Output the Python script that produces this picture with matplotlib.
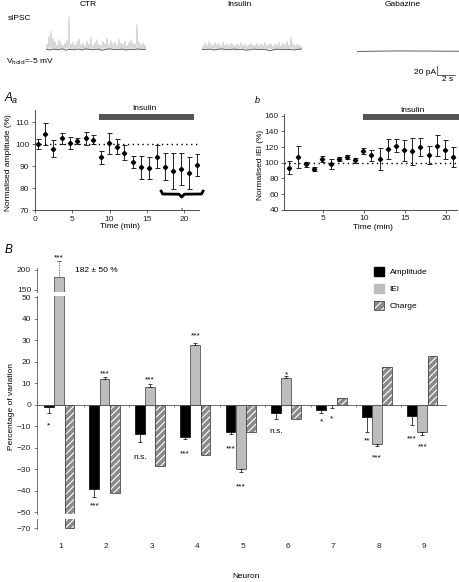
import matplotlib.pyplot as plt
from matplotlib.patches import Patch
from matplotlib.legend_handler import HandlerTuple
import numpy as np

plt.rcParams['font.family'] = ['Liberation Sans', 'DejaVu Sans']
plt.rcParams['font.size'] = 6
plt.rcParams['hatch.linewidth'] = 0.8
plt.rcParams['axes.linewidth'] = 0.6

W, H = 459, 582


def box(l, t, r, b):
    # pixel box -> figure fraction
    return [l / W, 1 - b / H, (r - l) / W, (b - t) / H]


# ---- sIPSC traces (pA) ----
ctr_peaks = [12, 30, 42, 25, 18, 10, 22, 15, 9, 14, 20, 73, 12, 16, 10, 18, 24, 11, 14, 9,
             19, 13, 27, 10, 16, 22, 12, 9, 18, 14, 25, 11, 20, 13, 17, 10, 23, 15, 12, 19,
             9, 16, 21, 14, 12, 56, 18, 11, 15, 10]
ctr_base = [0, -1.5, 0.5, -1, 1, -2, 0, -1, 0.5, -1.5, 1, -0.5, -1, 0.5, -2, 0, 1, -1, -0.5, 0.5,
            -1.5, 0, -1, 1, -0.5, 0]
ins_peaks = [8, 14, 10, 17, 12, 9, 15, 11, 13, 8, 16, 10, 12, 9, 14, 11, 8, 13, 10, 15,
             9, 12, 8, 11, 14, 10, 9, 13, 8, 12, 10, 15, 9, 11, 13, 8, 12, 10, 16, 9,
             14, 11, 18, 10, 27, 13, 9, 12, 10, 8]
ins_base = [0, -1, 0.5, -1.5, 0, 1, -1, -0.5, 0.5, -1, 0, -2, -1, 0.5, -0.5, 0, -1, -3, -1, 0.5,
            -1, 0, -0.5, -1.5, 0, 0.5]
gab_base = [0, 0.3, 0.6, 0.9, 1.1, 1.3, 1.2, 1.0, 1.1, 0.9, 0.7, 0.6, 0.5]

# ---- Aa: normalised amplitude ----
amp_t = [0.4, 1.4, 2.5, 3.6, 4.7, 5.7, 6.8, 7.8, 8.9, 9.9, 11.0, 12.0, 13.1, 14.2, 15.3,
         16.3, 17.4, 18.5, 19.6, 20.6, 21.7]
amp_mean = [100, 104.7, 98, 102.7, 100.6, 101.5, 102.7, 102, 94, 100.4, 98.9, 96.2, 91.8,
            89.5, 89.3, 94.3, 89.8, 88, 88.6, 86.9, 90.5]
amp_err = [2.3, 5, 4, 2.5, 2.7, 1.5, 3, 2, 3, 4.8, 3.4, 3.5, 2.8, 5.3, 5, 5.3, 6.3, 8.2, 7.2, 7.3, 4.9]
amp_insulin = (8.65, 21.3)

# ---- b: normalised IEI ----
iei_t = [0.85, 1.86, 2.88, 3.86, 4.88, 5.9, 6.88, 7.9, 8.87, 9.9, 10.87, 11.9, 12.87, 13.9,
         14.87, 15.9, 16.86, 17.9, 18.86, 19.9, 20.86]
iei_mean = [93.6, 106.8, 97.9, 91.5, 104.7, 98.3, 104.7, 107.7, 103, 115.3, 109.8, 104.7, 117,
            121.7, 115.7, 114.5, 120, 109.8, 121.7, 116.6, 107.2]
iei_err = [8.5, 14, 3, 2.5, 3.5, 6, 3, 2.5, 3, 4, 7, 14.5, 12.8, 8, 13.5, 17, 11, 12, 13.5, 12.5, 13]
iei_insulin = (9.82, 23.5)

# ---- B: percentage of variation per neuron ----
neurons = [1, 2, 3, 4, 5, 6, 7, 8, 9]
amp_var = [-1, -39.2, -13.8, -14.9, -12.9, -3.7, -2.6, -5.6, -5.1]
amp_sem = [3, 3.6, 3.5, 1.2, 0.9, 3.1, 1.1, 6.9, 4.3]
iei_var = [182, 12.1, 8.4, 27.9, -29.9, 12.3, -0.3, -18.3, -12.9]
iei_sem = [39, 1, 1.3, 1, 1.3, 1, 1.3, 0.9, 1.2]
charge_var = [-70, -41.2, -28.5, -23.5, -12.5, -6.8, 3.3, 17.4, 22.6]

# significance marks: (neuron, series 0=amp 1=iei, text, y)
sig = [(1, 0, '*', -10.7), (2, 0, '***', -47.9), (2, 1, '***', 13.6),
       (3, 0, 'n.s.', -25), (3, 1, '***', 10.8), (4, 0, '***', -23.6), (4, 1, '***', 31.3),
       (5, 0, '***', -21.1), (5, 1, '***', -38.8), (6, 0, 'n.s.', -13.2), (6, 1, '*', 13.4),
       (7, 0, '*', -8.9), (7, 1, '*', -7.3), (8, 0, '**', -17.5), (8, 1, '***', -25.6),
       (9, 0, '***', -16.6), (9, 1, '***', -20.5)]

fig = plt.figure(figsize=(W / 100, H / 100), dpi=100)

# ---------------- traces ----------------
def trace(ax, peaks, base, dur):
    n = len(peaks)
    xs = np.linspace(0, dur, 2 * n + 1)
    ys = []
    for i in range(n):
        ys.append(base[i % len(base)])
        ys.append(peaks[i])
    ys.append(base[0])
    ax.plot(xs, ys, color='#b0b0b0', lw=0.35)
    ax.plot(np.linspace(0, dur, len(base)), base, color='#505050', lw=0.6)


ax_c = fig.add_axes(box(46, 13.3, 146, 51.55))
trace(ax_c, ctr_peaks, ctr_base, 11.2)
ax_i = fig.add_axes(box(202, 13.3, 302, 51.55))
trace(ax_i, ins_peaks, ins_base, 11.2)
ax_g = fig.add_axes(box(356.7, 15.5, 459, 53.75))
ax_g.plot(np.linspace(0, 11.48, len(gab_base)), gab_base, color='#606060', lw=0.7)
for a, dur in [(ax_c, 11.2), (ax_i, 11.2), (ax_g, 11.48)]:
    a.set_xlim(0, dur)
    a.set_ylim(-5, 80)
    a.axis('off')
# scale bar 20 pA / 2 s
ax_g.plot([9.05, 9.05, 11.05], [-33.3, -53.3, -53.3], color='#444', lw=0.6, clip_on=False)
ax_g.text(8.95, -47.3, '20 pA', ha='right', va='center', fontsize=6)
ax_g.text(10.16, -62.9, '2 s', ha='center', va='center', fontsize=6)

fig.text(88 / W, 1 - 5 / H, 'CTR', ha='center', va='center', fontsize=6)
fig.text(239 / W, 1 - 5 / H, 'Insulin', ha='center', va='center', fontsize=6)
fig.text(403 / W, 1 - 5 / H, 'Gabazine', ha='center', va='center', fontsize=6)
fig.text(8 / W, 1 - 19 / H, 'sIPSC', ha='left', va='center', fontsize=6)
fig.text(6 / W, 1 - 62 / H, r'V$_{\mathrm{hold}}$=-5 mV', ha='left', va='center', fontsize=6)


def style(ax):
    for s in ['top', 'right']:
        ax.spines[s].set_visible(False)
    for s in ['left', 'bottom']:
        ax.spines[s].set_color('#333')
    ax.tick_params(labelsize=6, length=2.5, width=0.5, pad=1.5, colors='#333', labelcolor='#222')


# ---------------- Aa ----------------
ax1 = fig.add_axes(box(34.7, 110, 199.3, 210))
style(ax1)
ax1.errorbar(amp_t, amp_mean, yerr=amp_err, fmt='D', ms=2.2, color='black', ecolor='#222',
             elinewidth=0.7, capsize=1.8, capthick=0.7)
ax1.axhline(100, color='black', lw=1, ls=(0, (1, 2.5)))
ax1.hlines(112.5, *amp_insulin, color='#555', lw=4.3, capstyle='butt')
ax1.text(14.7, 116.2, 'Insulin', ha='center', va='center', fontsize=6, clip_on=False)
brace_x = [16.9, 17.1, 19.3, 19.65, 20.0, 22.3, 22.5]
brace_y = [78.6, 77.3, 77.2, 75.9, 77.2, 77.3, 78.6]
ax1.plot(brace_x, brace_y, color='black', lw=2, clip_on=False, solid_joinstyle='round')
ax1.text(19.65, 70.2, '*', ha='center', va='center', fontsize=4)
ax1.set_xlim(0, 22)
ax1.set_ylim(70, 115.6)
ax1.set_xticks([0, 5, 10, 15, 20])
ax1.set_yticks([70, 80, 90, 100, 110])
fig.text(8.3 / W, 1 - 163 / H, 'Normalised amplitude (%)', rotation=90, ha='center', va='center', fontsize=6)
fig.text(120 / W, 1 - 227 / H, 'Time (min)', ha='center', va='center', fontsize=6)
fig.text(5 / W, 1 - 98 / H, 'A', ha='left', va='center', fontsize=8.5, style='italic')
fig.text(11.5 / W, 1 - 100 / H, 'a', ha='left', va='center', fontsize=6.5, style='italic')

# ---------------- b ----------------
ax2 = fig.add_axes(box(284.3, 114.3, 457.3, 209.7))
style(ax2)
ax2.errorbar(iei_t, iei_mean, yerr=iei_err, fmt='D', ms=2.2, color='black', ecolor='#222',
             elinewidth=0.7, capsize=1.8, capthick=0.7)
ax2.axhline(100, color='black', lw=1, ls=(0, (1, 2.5)))
ax2.hlines(158.4, *iei_insulin, color='#555', lw=4.3, capstyle='butt', clip_on=False)
ax2.text(15.9, 166.5, 'Insulin', ha='center', va='center', fontsize=6, clip_on=False)
ax2.set_xlim(0.23, 21.38)
ax2.set_ylim(40, 161.8)
ax2.set_xticks([5, 10, 15, 20])
ax2.set_yticks([40, 60, 80, 100, 120, 140, 160])
fig.text(261 / W, 1 - 165 / H, 'Normalised IEI (%)', rotation=90, ha='center', va='center', fontsize=6)
fig.text(372.7 / W, 1 - 228 / H, 'Time (min)', ha='center', va='center', fontsize=6)
fig.text(255 / W, 1 - 100 / H, 'b', ha='left', va='center', fontsize=6.5, style='italic')

# ---------------- B (broken axis) ----------------
offs = [-0.265, -0.04, 0.185]
bw = 0.215
ax_top = fig.add_axes(box(36.7, 267.9, 445.5, 291.8))
ax_mid = fig.add_axes(box(36.7, 296.1, 445.5, 514))
ax_bot = fig.add_axes(box(36.7, 518.6, 445.5, 528.7))

x = np.array(neurons, dtype=float)
for ax in [ax_top, ax_mid, ax_bot]:
    ax.bar(x + offs[0], amp_var, bw, color='black', edgecolor='black', lw=0.5)
    ax.bar(x + offs[1], iei_var, bw, color='#bdbdbd', edgecolor='#555', lw=0.6)
    ax.bar(x + offs[2], charge_var, bw, color='#8a8a8a', edgecolor='white', lw=0, hatch='/////')
    ax.bar(x + offs[2], charge_var, bw, color='none', edgecolor='#444', lw=0.6)
    ax.set_xlim(0.465, 9.47)
    for s in ['top', 'right', 'bottom']:
        ax.spines[s].set_visible(False)
    ax.spines['left'].set_color('#555')
    ax.tick_params(labelsize=6, length=2.5, width=0.5, pad=1.5, colors='#555', labelcolor='#222')

ax_top.set_ylim(145.5, 204.5)
ax_top.set_yticks([150, 200])
ax_top.set_xticks([])
ax_mid.set_ylim(-50.8, 50.5)
ax_mid.set_yticks(range(-50, 51, 10))
ax_mid.spines['bottom'].set_visible(True)
ax_mid.spines['bottom'].set_position(('data', 0))
ax_mid.spines['bottom'].set_color('#555')
ax_mid.set_xticks([1.5, 2.5, 3.5, 4.5, 5.5, 6.5, 7.5, 8.5])
ax_mid.tick_params(axis='x', length=1.5, labelbottom=False)
ax_bot.set_ylim(-70.2, -65.5)
ax_bot.set_yticks([-70])
ax_bot.set_xticks(neurons)
ax_bot.tick_params(axis='x', length=0, pad=10.5)

# error bars, pointing away from zero
for vals, sems, k in [(amp_var, amp_sem, 0), (iei_var, iei_sem, 1)]:
    lo = [s if v < 0 else 0 for v, s in zip(vals, sems)]
    hi = [s if v >= 0 else 0 for v, s in zip(vals, sems)]
    if k == 1:
        hi[0] = 0
    ax_mid.errorbar(x + offs[k], vals, yerr=[lo, hi], fmt='none', ecolor='#222',
                    elinewidth=0.6, capsize=1.5, capthick=0.6)
# neuron 1 IEI error (off scale)
ax_top.vlines(1 + offs[1], iei_var[0], iei_var[0] + iei_sem[0], color='#444', lw=0.6,
              linestyles=(0, (1, 1)), clip_on=False)
ax_top.hlines(iei_var[0] + iei_sem[0], 1 + offs[1] - 0.04, 1 + offs[1] + 0.04, color='#444',
              lw=0.6, clip_on=False)
ax_top.text(1 + offs[1], 225, '***', ha='center', va='baseline', fontsize=6, clip_on=False)
ax_top.text(1.31, 197.5, '182 \u00b1 50 %', ha='left', va='center', fontsize=6)

for n, k, lab, yv in sig:
    ax_mid.text(n + offs[k], yv, lab, ha='center', va='baseline', fontsize=6, clip_on=False)

fig.text(11.7 / W, 1 - 407 / H, 'Percentage of variation', rotation=90, ha='center', va='center', fontsize=6)
fig.text(246 / W, 1 - 576 / H, 'Neuron', ha='center', va='center', fontsize=6)
fig.text(5 / W, 1 - 250 / H, 'B', ha='left', va='center', fontsize=8.5, style='italic')

handles = [Patch(facecolor='black', edgecolor='black'),
           Patch(facecolor='#bdbdbd', edgecolor='#bdbdbd'),
           (Patch(facecolor='#8a8a8a', edgecolor='white', lw=0, hatch='////'),
            Patch(facecolor='none', edgecolor='#444', lw=0.6))]
fig.legend(handles, ['Amplitude', 'IEI', 'Charge'], loc='upper left',
           bbox_to_anchor=(368 / W, 1 - 261 / H), frameon=False, fontsize=6,
           handlelength=1.2, handleheight=1.3, labelspacing=0.9, handletextpad=0.7,
           borderpad=0.2, handler_map={tuple: HandlerTuple(ndivide=1, pad=0)})

fig.savefig('out.png', dpi=100)
